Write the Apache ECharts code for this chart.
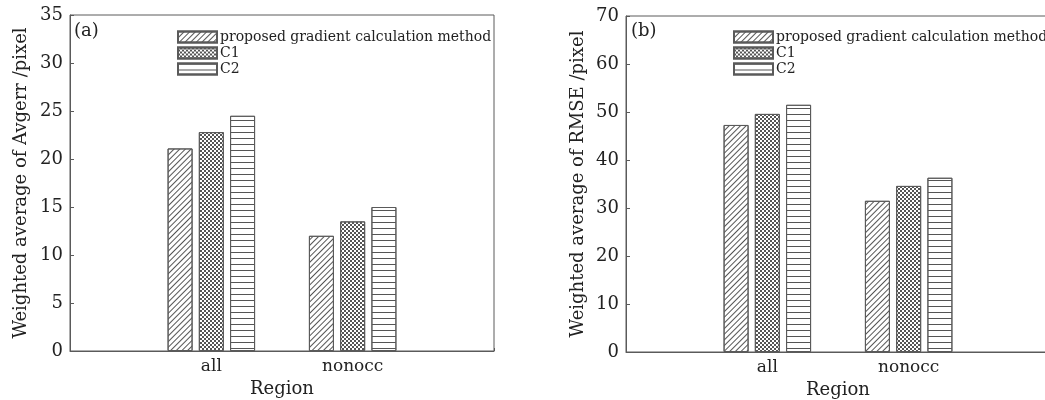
<!DOCTYPE html>
<html>
<head>
<meta charset="utf-8">
<script src="https://cdn.jsdelivr.net/npm/echarts@6/dist/echarts.min.js"></script>
<style>
html, body { margin: 0; padding: 0; background: #fff; }
#main { width: 1045px; height: 400px; }
</style>
</head>
<body>
<div id="main"></div>
<script>
// data
var regions = ['', 'all', 'nonocc', ''];
var seriesNames = ['proposed gradient calculation method', 'C1', 'C2'];
var avgerrProposed = ['-', 21.1, 12.0, '-'];
var avgerrC1 = ['-', 22.8, 13.5, '-'];
var avgerrC2 = ['-', 24.5, 15.0, '-'];
var rmseProposed = ['-', 47.3, 31.5, '-'];
var rmseC1 = ['-', 49.6, 34.6, '-'];
var rmseC2 = ['-', 51.5, 36.3, '-'];

var font = 'DejaVu Serif';
var axisColor = '#5a5a5a';
var textColor = '#222';

// hatch patterns for the three methods
var decals = [
    { symbol: 'rect', symbolSize: 1, color: '#555', dashArrayX: [1, 0], dashArrayY: [1, 3], rotation: -Math.PI / 4 },
    { symbol: 'rect', symbolSize: 1, color: '#555', dashArrayX: [[2, 2], [0, 2, 2, 0]], dashArrayY: [2, 0], rotation: 0 },
    { symbol: 'rect', symbolSize: 1, color: '#555', dashArrayX: [1, 0], dashArrayY: [1, 5], rotation: 0 }
];

function bar(name, data, idx, axisIdx) {
    return {
        name: name,
        type: 'bar',
        xAxisIndex: axisIdx,
        yAxisIndex: axisIdx,
        data: data,
        barWidth: 25,
        barGap: '25%',
        itemStyle: {
            color: '#fff',
            borderColor: axisColor,
            borderWidth: 1,
            decal: decals[idx]
        },
        emphasis: { disabled: true }
    };
}

function xAxis(gridIndex) {
    return {
        type: 'category',
        gridIndex: gridIndex,
        data: regions,
        boundaryGap: false,
        name: 'Region',
        nameLocation: 'middle',
        nameGap: 28,
        nameTextStyle: { fontFamily: font, fontSize: 18, color: textColor },
        axisLine: { lineStyle: { color: axisColor, width: 1 } },
        axisTick: { show: true, inside: true, length: 3, alignWithLabel: true, lineStyle: { color: axisColor } },
        axisLabel: { fontFamily: font, fontSize: 17, color: textColor, margin: 7 },
        splitLine: { show: false }
    };
}

function yAxis(gridIndex, max, interval, title, gap) {
    return {
        type: 'value',
        gridIndex: gridIndex,
        min: 0,
        max: max,
        interval: interval,
        name: title,
        nameLocation: 'middle',
        nameGap: gap,
        nameTextStyle: { fontFamily: font, fontSize: 18, color: textColor },
        axisLine: { show: true, lineStyle: { color: axisColor, width: 1 } },
        axisTick: { show: true, inside: true, length: 4, lineStyle: { color: axisColor } },
        axisLabel: { fontFamily: font, fontSize: 18, color: textColor, margin: 7 },
        splitLine: { show: false }
    };
}

function legend(left) {
    return {
        data: seriesNames.map(function (n) { return { name: n, icon: 'rect' }; }),
        orient: 'vertical',
        left: left,
        top: 30,
        itemWidth: 39,
        itemHeight: 11,
        itemGap: 2,
        padding: 0,
        selectedMode: false,
        textStyle: { fontFamily: font, fontSize: 14, lineHeight: 14, color: textColor, padding: [0, 0, 0, -2] }
    };
}

var myChart = echarts.init(document.getElementById('main'), null, { renderer: 'canvas' });

var option = {
    backgroundColor: '#fff',
    animation: false,
    grid: [
        { left: 70, top: 15, width: 424, height: 336, outerBoundsMode: 'none', show: true, borderColor: axisColor, borderWidth: 1, backgroundColor: 'transparent' },
        { left: 626, top: 16, width: 424, height: 336, outerBoundsMode: 'none', show: true, borderColor: axisColor, borderWidth: 1, backgroundColor: 'transparent' }
    ],
    legend: [legend(177), legend(733)],
    graphic: [
        { type: 'text', left: 74, top: 22, style: { text: '(a)', fontFamily: font, fontSize: 18, fill: textColor } },
        { type: 'text', left: 631, top: 22, style: { text: '(b)', fontFamily: font, fontSize: 18, fill: textColor } }
    ],
    xAxis: [xAxis(0), xAxis(1)],
    yAxis: [
        yAxis(0, 35, 5, 'Weighted average of Avgerr /pixel', 40),
        yAxis(1, 70, 10, 'Weighted average of RMSE /pixel', 39)
    ],
    series: [
        bar(seriesNames[0], avgerrProposed, 0, 0),
        bar(seriesNames[1], avgerrC1, 1, 0),
        bar(seriesNames[2], avgerrC2, 2, 0),
        bar(seriesNames[0], rmseProposed, 0, 1),
        bar(seriesNames[1], rmseC1, 1, 1),
        bar(seriesNames[2], rmseC2, 2, 1)
    ]
};

myChart.setOption(option);
window.onresize = function () {
    myChart.resize();
};
</script>
</body>
</html>
